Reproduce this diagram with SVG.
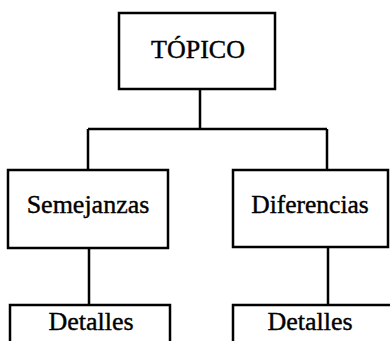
<svg xmlns="http://www.w3.org/2000/svg" width="390" height="341" viewBox="0 0 390 341">
<style>
.box{fill:#fff;stroke:#000;stroke-width:2.5}
.ln{fill:none;stroke:#000;stroke-width:2.5}
.t{font-family:"Liberation Serif","DejaVu Serif",serif;fill:#000;stroke:#000;stroke-width:0.4;text-anchor:middle}
</style>
<rect width="390" height="341" fill="#fff"/>
<g id="connectors">
<path class="ln" d="M200,89 V129 M88,129 H327 M88,129 V170 M327,129 V170 M89,248 V305 M328,247 V305"/>
</g>
<g id="topico">
<rect class="box" x="119" y="13" width="156" height="76"/>
<text class="t" x="198" y="58" font-size="26">TÓPICO</text>
</g>
<g id="semejanzas">
<rect class="box" x="8" y="170" width="160" height="78"/>
<text class="t" x="88" y="213" font-size="26">Semejanzas</text>
</g>
<g id="diferencias">
<rect class="box" x="233" y="170" width="155" height="77"/>
<text class="t" x="310" y="213" font-size="25.5">Diferencias</text>
</g>
<g id="detalles1">
<rect class="box" x="10" y="305" width="160" height="50"/>
<text class="t" x="91" y="330" font-size="26">Detalles</text>
</g>
<g id="detalles2">
<rect class="box" x="233" y="305" width="160" height="50"/>
<text class="t" x="310" y="330" font-size="26">Detalles</text>
</g>
</svg>
